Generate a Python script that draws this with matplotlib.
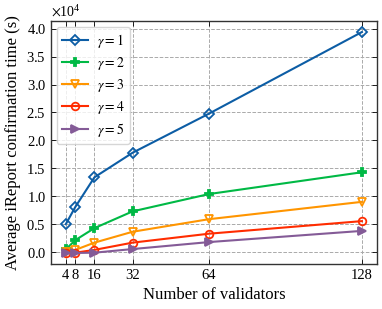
import matplotlib
matplotlib.use("Agg")
import matplotlib.pyplot as plt

validators = [4, 8, 16, 32, 64, 128]
gamma_labels = [r"$\gamma=1$", r"$\gamma=2$", r"$\gamma=3$", r"$\gamma=4$", r"$\gamma=5$"]
g1 = [5000, 8100, 13400, 17800, 24800, 39400]
g2 = [500, 2150, 4300, 7300, 10400, 14300]
g3 = [0, 400, 1700, 3650, 5900, 9000]
g4 = [-100, -100, 400, 1700, 3300, 5550]
g5 = [-150, -150, -100, 550, 1800, 3800]
series = [g1, g2, g3, g4, g5]

colors = ['#0C5DA5', '#00B945', '#FF9500', '#FF2C00', '#845B97']
markers = ['D', 'P', 'v', 'o', '>']
filled = [False, True, False, False, True]

plt.rcParams['font.family'] = ['Liberation Serif', 'DejaVu Serif']
plt.rcParams['mathtext.fontset'] = 'stix'

fig = plt.figure(figsize=(3.82, 3.09), dpi=100)
ax = fig.add_axes([0.1335, 0.1456, 0.8525, 0.7864])

for ys, lab, c, m, f in zip(series, gamma_labels, colors, markers, filled):
    ax.plot(validators, ys, color=c, marker=m, markersize=5.5, linewidth=1.5,
            markerfacecolor=(c if f else 'none'), markeredgewidth=1.3, label=lab)

ax.set_xticks(validators)
ax.set_xticklabels([str(v) for v in validators])
ax.set_yticks([0, 5000, 10000, 15000, 20000, 25000, 30000, 35000, 40000])
ax.ticklabel_format(axis='y', style='sci', scilimits=(0, 0), useMathText=True)
ax.yaxis.get_offset_text().set_fontsize(10)
ax.tick_params(direction='in', top=True, right=True, labelsize=10.5, length=3.5, width=0.6)
ax.grid(True, linestyle='--', color='#aaaaaa', linewidth=0.7)
for s in ax.spines.values():
    s.set_linewidth(1.0)
    s.set_color('#333333')

ax.set_xlabel('Number of validators', fontsize=12)
ax.set_ylabel('Average iReport confirmation time (s)', fontsize=12)

leg = ax.legend(loc='upper left', fontsize=10, frameon=True, handlelength=1.9,
                borderpad=0.4, labelspacing=0.35, handletextpad=0.6,
                borderaxespad=0.4)
leg.get_frame().set_edgecolor('#cccccc')

fig.savefig('out.png', dpi=100)
